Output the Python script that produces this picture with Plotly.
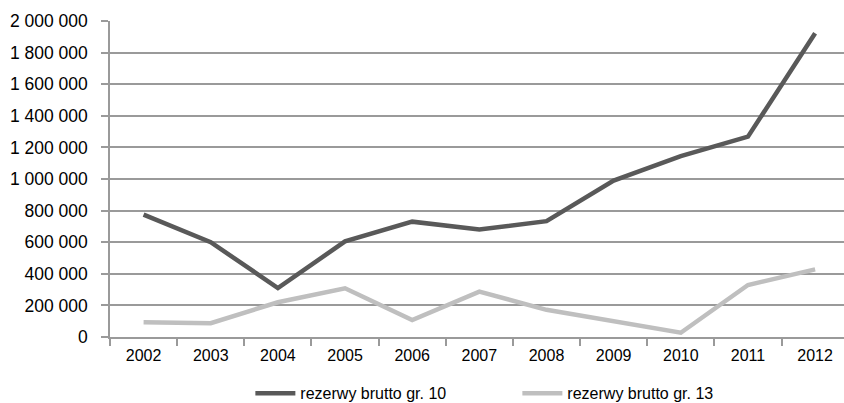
import plotly.graph_objects as go

years = ["2002", "2003", "2004", "2005", "2006", "2007", "2008", "2009", "2010", "2011", "2012"]
gr10 = [775000, 600000, 310000, 605000, 730000, 680000, 733000, 990000, 1145000, 1268000, 1922000]
gr13 = [93000, 87000, 220000, 308000, 107000, 287000, 172000, 100000, 27000, 329000, 428000]
y_ticks = [0, 200000, 400000, 600000, 800000, 1000000, 1200000, 1400000, 1600000, 1800000, 2000000]

FONT = "Liberation Sans, Arial, sans-serif"
GRID = "#9a9a9a"

fig = go.Figure()
fig.add_trace(go.Scatter(x=years, y=gr10, mode="lines", name="rezerwy brutto gr. 10",
                         line=dict(color="#595959", width=4.5)))
fig.add_trace(go.Scatter(x=years, y=gr13, mode="lines", name="rezerwy brutto gr. 13",
                         line=dict(color="#bfbfbf", width=4.5)))

fig.update_layout(
    width=844, height=403,
    margin=dict(l=110, r=0, t=21, b=66, autoexpand=False),
    paper_bgcolor="white", plot_bgcolor="white",
    separators=", ",
    font=dict(family=FONT, size=14, color="#000000"),
    showlegend=True,
    legend=dict(orientation="h", xref="paper", x=0.555, xanchor="center",
                yref="container", y=0.024, yanchor="middle",
                entrywidth=212, font=dict(size=16), itemwidth=40),
    xaxis=dict(type="category", range=[-0.5, 10.43], showgrid=False,
               showline=True, linecolor=GRID, linewidth=1.5,
               ticks="outside", tickson="boundaries", ticklen=7, tickcolor=GRID, tickwidth=1.5,
               ticklabelstandoff=3, tickfont=dict(size=16), fixedrange=True),
    yaxis=dict(range=[0, 2000000], tickvals=y_ticks, tickformat=",.0f",
               showgrid=True, gridcolor=GRID, gridwidth=1.5, zeroline=False,
               showline=True, linecolor=GRID, linewidth=1.5,
               ticks="outside", ticklen=7, tickcolor=GRID, tickwidth=1.5,
               ticklabelstandoff=10, tickfont=dict(size=17.5), fixedrange=True),
)

fig.write_html("out.html")
